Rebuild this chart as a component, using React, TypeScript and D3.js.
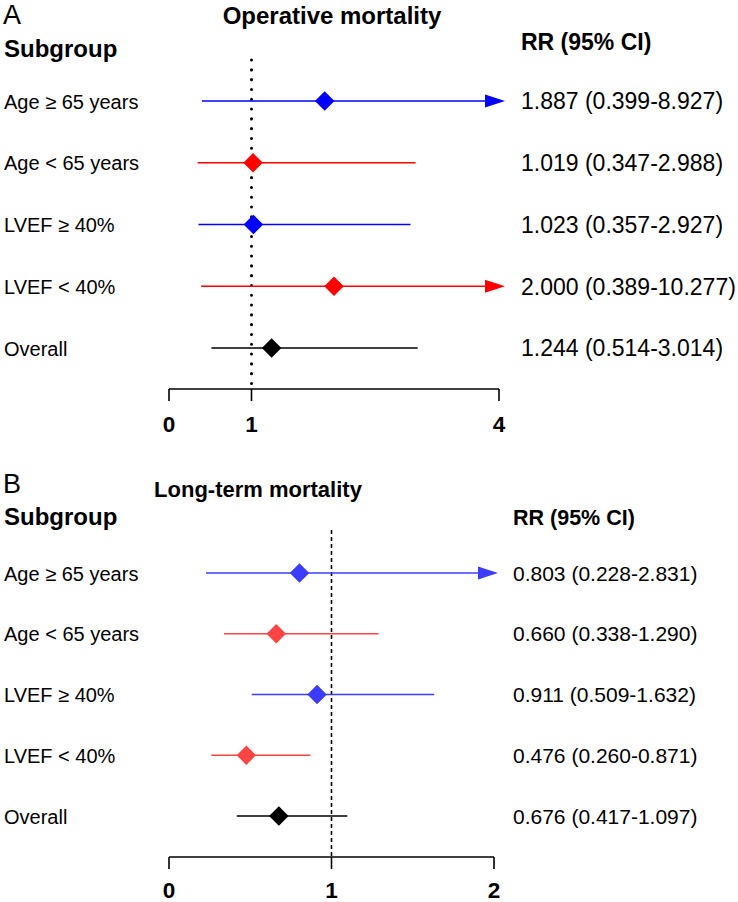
import React from "react";
import * as d3 from "d3";

const subgroups = ["Age ≥ 65 years", "Age < 65 years", "LVEF ≥ 40%", "LVEF < 40%", "Overall"];
const groupKind = ["blue", "red", "blue", "red", "black"];

const opRR = [1.887, 1.019, 1.023, 2.0, 1.244];
const opLo = [0.399, 0.347, 0.357, 0.389, 0.514];
const opHi = [8.927, 2.988, 2.927, 10.277, 3.014];
const opTicks = [0, 1, 4];

const ltRR = [0.803, 0.66, 0.911, 0.476, 0.676];
const ltLo = [0.228, 0.338, 0.509, 0.26, 0.417];
const ltHi = [2.831, 1.29, 1.632, 0.871, 1.097];
const ltTicks = [0, 1, 2];

const FONT = "'Liberation Sans', Arial, Helvetica, sans-serif";

type PanelProps = {
  letter: string;
  title: string;
  titleX: number;
  titleSize: number;
  rr: number[];
  lo: number[];
  hi: number[];
  ticks: number[];
  domainMax: number;
  xRange: [number, number];
  rowRange: [number, number];
  axisY: number;
  refTop: number;
  refDash: string;
  refCap: "round" | "butt";
  refWidth: number;
  colors: Record<string, string>;
  valueX: number;
  valueSize: number;
  rrSize: number;
  rrBaseline: number;
  subgroupBaseline: number;
  letterBaseline: number;
  titleBaseline: number;
  tickLabelBaseline: number;
  arrowOffset: number;
};

function Panel(p: PanelProps) {
  const x = d3.scaleLinear().domain([0, p.domainMax]).range(p.xRange);
  const y = d3.scalePoint<string>().domain(subgroups).range(p.rowRange);
  const diamond = d3.symbol().type(d3.symbolSquare).size(190)();
  const fmt = d3.format(".3f");
  return (
    <g>
      <text x={3} y={p.letterBaseline} fontSize={27} fontFamily={FONT}>{p.letter}</text>
      <text x={p.titleX} y={p.titleBaseline} fontSize={p.titleSize} fontWeight="bold" fontFamily={FONT} textAnchor="middle">{p.title}</text>
      <text x={4} y={p.subgroupBaseline} fontSize={24} fontWeight="bold" fontFamily={FONT}>Subgroup</text>
      <text x={p.valueX} y={p.rrBaseline} fontSize={p.rrSize} fontWeight="bold" fontFamily={FONT}>RR (95% CI)</text>
      <line x1={x(1)} x2={x(1)} y1={p.refTop} y2={p.axisY} stroke="#000" strokeWidth={p.refWidth} strokeDasharray={p.refDash} strokeLinecap={p.refCap} />
      {subgroups.map((s, i) => {
        const cy = y(s)!;
        const col = p.colors[groupKind[i]];
        const clipped = p.hi[i] > p.domainMax;
        const xEnd = clipped ? x(p.domainMax) + p.arrowOffset : x(p.hi[i]);
        const lineEnd = clipped ? xEnd - 16 : xEnd;
        return (
          <g key={s}>
            <text x={4} y={cy + 7.5} fontSize={20} fontFamily={FONT}>{s}</text>
            <line x1={x(p.lo[i])} x2={lineEnd} y1={cy} y2={cy} stroke={col} strokeWidth={1.6} />
            {clipped && (
              <path d={`M${xEnd},${cy}L${xEnd - 20},${cy - 6.5}L${xEnd - 20},${cy + 6.5}Z`} fill={col} />
            )}
            <path d={diamond!} transform={`translate(${x(p.rr[i])},${cy}) rotate(45)`} fill={col} />
            <text x={p.valueX} y={cy + p.valueSize * 0.36} fontSize={p.valueSize} fontFamily={FONT}>
              {`${fmt(p.rr[i])} (${fmt(p.lo[i])}-${fmt(p.hi[i])})`}
            </text>
          </g>
        );
      })}
      <line x1={x(0)} x2={x(p.domainMax)} y1={p.axisY} y2={p.axisY} stroke="#000" strokeWidth={1.6} />
      {p.ticks.map((t) => (
        <g key={t}>
          <line x1={x(t)} x2={x(t)} y1={p.axisY} y2={p.axisY + 12} stroke="#000" strokeWidth={1.6} />
          <text x={x(t)} y={p.tickLabelBaseline} fontSize={22.5} fontWeight="bold" fontFamily={FONT} textAnchor="middle">{t}</text>
        </g>
      ))}
    </g>
  );
}

export default function App() {
  return (
    <svg width={738} height={902} style={{ position: "absolute", left: 0, top: 0, background: "#fff" }}>
      <rect width={738} height={902} fill="#fff" />
      <Panel
        letter="A"
        title="Operative mortality"
        titleX={332}
        titleSize={24}
        rr={opRR}
        lo={opLo}
        hi={opHi}
        ticks={opTicks}
        domainMax={4}
        xRange={[169, 499]}
        rowRange={[101, 348]}
        axisY={389}
        refTop={60}
        refDash="0.1 9.7"
        refCap="round"
        refWidth={3}
        colors={{ blue: "#0000ff", red: "#ff0000", black: "#000000" }}
        valueX={521}
        valueSize={23}
        rrSize={23}
        rrBaseline={50}
        subgroupBaseline={57}
        letterBaseline={24}
        titleBaseline={24}
        tickLabelBaseline={432}
        arrowOffset={6}
      />
      <Panel
        letter="B"
        title="Long-term mortality"
        titleX={258}
        titleSize={22}
        rr={ltRR}
        lo={ltLo}
        hi={ltHi}
        ticks={ltTicks}
        domainMax={2}
        xRange={[169, 494]}
        rowRange={[573, 816]}
        axisY={857}
        refTop={530}
        refDash="4 3"
        refCap="butt"
        refWidth={1.6}
        colors={{ blue: "#3c3cff", red: "#ff4444", black: "#000000" }}
        valueX={513}
        valueSize={21}
        rrSize={21.5}
        rrBaseline={525}
        subgroupBaseline={525}
        letterBaseline={493}
        titleBaseline={497}
        tickLabelBaseline={898}
        arrowOffset={4}
      />
    </svg>
  );
}
